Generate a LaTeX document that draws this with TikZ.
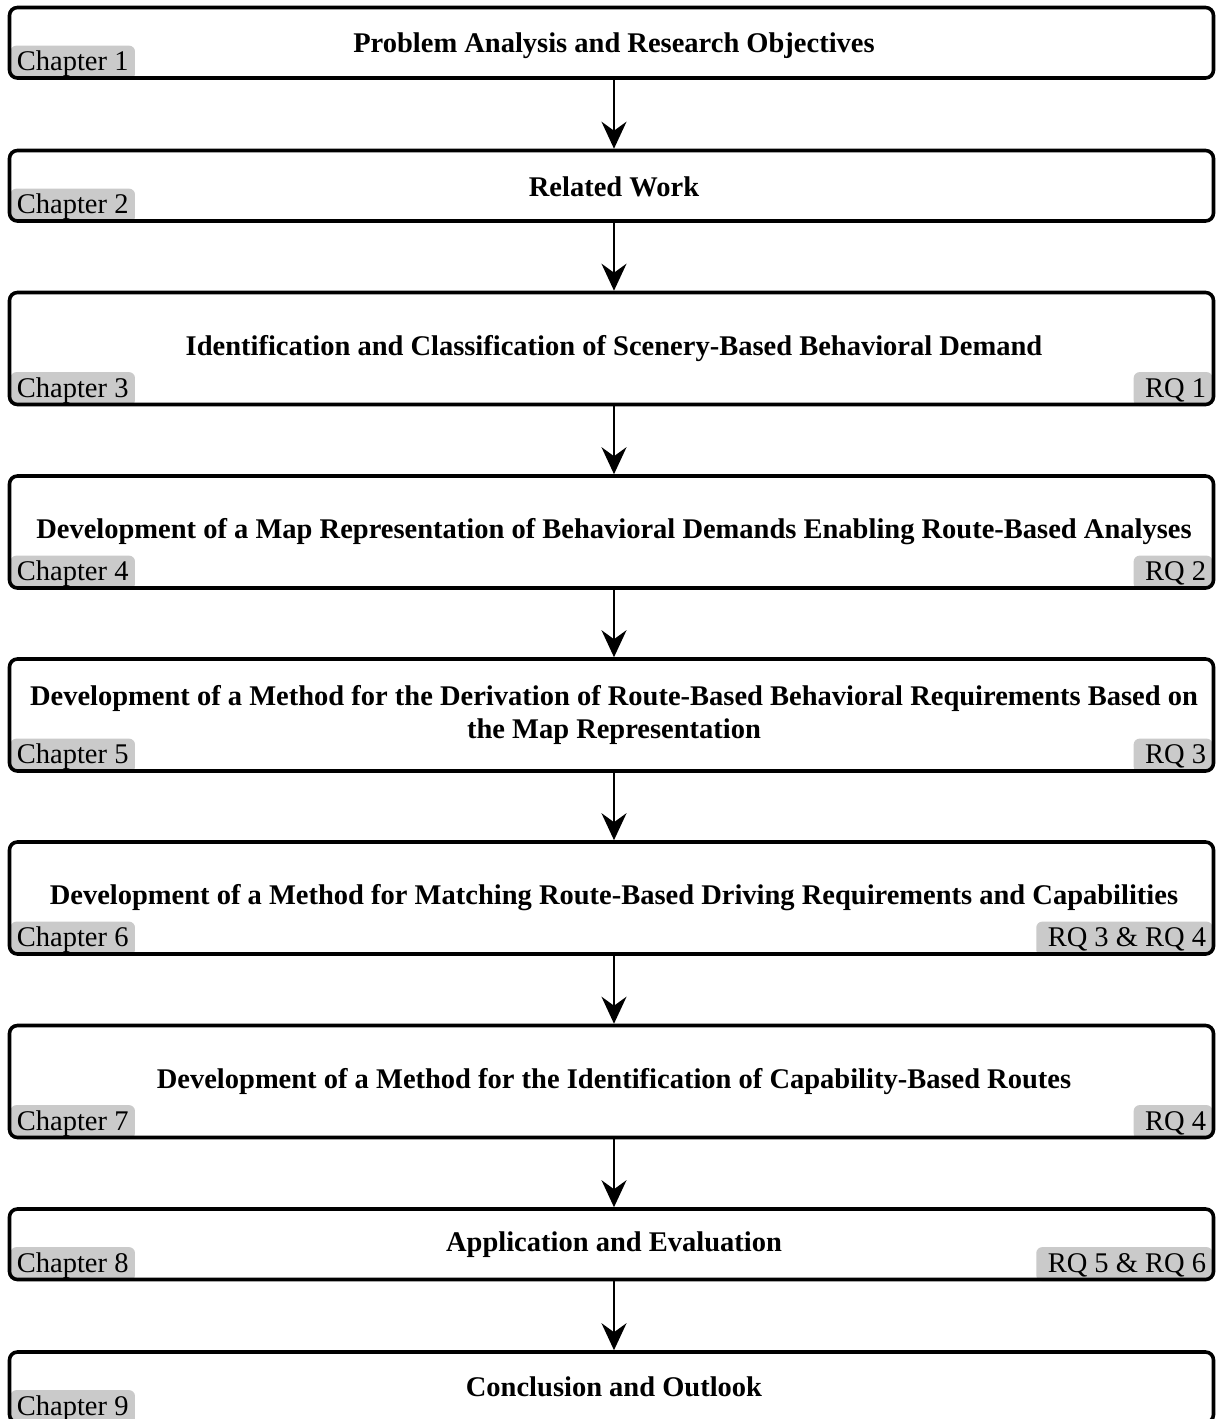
\documentclass[tikz,border=0pt]{standalone}
\usepackage{fontspec}
\setmainfont{Liberation Serif}
\usetikzlibrary{arrows.meta,backgrounds}
\definecolor{tagfill}{RGB}{202,202,202}
\begin{document}
\begin{tikzpicture}[x=1pt,y=-1pt,
  chapbox/.style={draw, line width=3.6pt, rounded corners=8pt,
    minimum width=1204pt, inner sep=0pt},
  shortbox/.style={chapbox, minimum height=70.5pt},
  tallbox/.style={chapbox, minimum height=112pt},
  title/.style={font=\fontsize{28.5}{33}\selectfont\bfseries, align=center, inner sep=0pt},
  tagbase/.style={fill=tagfill, rounded corners=6pt, font=\fontsize{28.5}{33}\selectfont,
    inner xsep=6.5pt, inner ysep=0pt, text height=25pt, text depth=9pt},
  chaptag/.style={tagbase, anchor=south west},
  rqtag/.style={tagbase, anchor=south east},
  flow/.style={-{Stealth[length=27pt,width=25pt,inset=9pt]}, line width=2pt}]
\clip (0,0) rectangle (1216,1419);

% chapter boxes
\node[shortbox] (b1) at (611.5,42.75) {};
\node[shortbox] (b2) at (611.5,185.75) {};
\node[tallbox]  (b3) at (611.5,348.5) {};
\node[tallbox]  (b4) at (611.5,532) {};
\node[tallbox]  (b5) at (611.5,715) {};
\node[tallbox]  (b6) at (611.5,898) {};
\node[tallbox]  (b7) at (611.5,1081.5) {};
\node[shortbox] (b8) at (611.5,1244.25) {};
\node[shortbox] (b9) at (611.5,1387.25) {};

% titles
\node[title] (t1) at (614,45.5) {Problem Analysis and Research Objectives};
\node[title] (t2) at (614,186.5) {Related Work};
\node[title] (t3) at (614,349) {Identification and Classification of Scenery-Based Behavioral Demand};
\node[title] (t4) at (614,532) {Development of a Map Representation of Behavioral Demands Enabling Route-Based Analyses};
\node[title] (t5) at (614,715) {Development of a Method for the Derivation of Route-Based Behavioral Requirements Based on\\the Map Representation};
\node[title] (t6) at (614,898) {Development of a Method for Matching Route-Based Driving Requirements and Capabilities};
\node[title] (t7) at (614,1082) {Development of a Method for the Identification of Capability-Based Routes};
\node[title] (t8) at (614,1245) {Application and Evaluation};
\node[title] (t9) at (614,1387) {Conclusion and Outlook};

% grey labels behind the borders
\begin{pgfonlayer}{background}
\node[chaptag] (c1) at ([xshift=2.5pt]b1.south west) {Chapter 1};
\node[chaptag] (c2) at ([xshift=2.5pt]b2.south west) {Chapter 2};
\node[chaptag] (c3) at ([xshift=2.5pt]b3.south west) {Chapter 3};
\node[chaptag] (c4) at ([xshift=2.5pt]b4.south west) {Chapter 4};
\node[chaptag] (c5) at ([xshift=2.5pt]b5.south west) {Chapter 5};
\node[chaptag] (c6) at ([xshift=2.5pt]b6.south west) {Chapter 6};
\node[chaptag] (c7) at ([xshift=2.5pt]b7.south west) {Chapter 7};
\node[chaptag] (c8) at ([xshift=2.5pt]b8.south west) {Chapter 8};
\node[chaptag] (c9) at ([xshift=2.5pt]b9.south west) {Chapter 9};
\node[rqtag] (r3) at ([xshift=-2.5pt]b3.south east) {\hspace*{5pt}RQ 1};
\node[rqtag] (r4) at ([xshift=-2.5pt]b4.south east) {\hspace*{5pt}RQ 2};
\node[rqtag] (r5) at ([xshift=-2.5pt]b5.south east) {\hspace*{5pt}RQ 3};
\node[rqtag] (r6) at ([xshift=-2.5pt]b6.south east) {\hspace*{5pt}RQ 3 \& RQ 4};
\node[rqtag] (r7) at ([xshift=-2.5pt]b7.south east) {\hspace*{5pt}RQ 4};
\node[rqtag] (r8) at ([xshift=-2.5pt]b8.south east) {\hspace*{5pt}RQ 5 \& RQ 6};
\end{pgfonlayer}

% flow between chapters
\draw[flow] (b1.south -| t1) -- (b2.north -| t1);
\draw[flow] (b2.south -| t1) -- (b3.north -| t1);
\draw[flow] (b3.south -| t1) -- (b4.north -| t1);
\draw[flow] (b4.south -| t1) -- (b5.north -| t1);
\draw[flow] (b5.south -| t1) -- (b6.north -| t1);
\draw[flow] (b6.south -| t1) -- (b7.north -| t1);
\draw[flow] (b7.south -| t1) -- (b8.north -| t1);
\draw[flow] (b8.south -| t1) -- (b9.north -| t1);
\end{tikzpicture}
\end{document}
